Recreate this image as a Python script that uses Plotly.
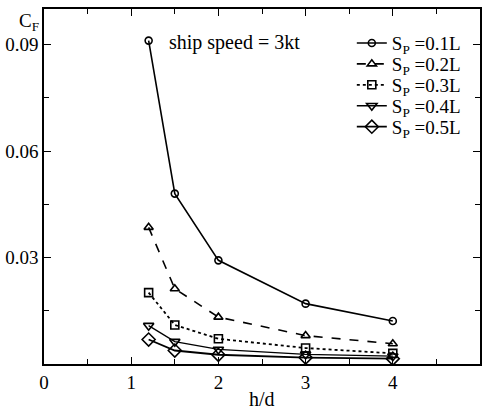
import plotly.graph_objects as go

h_d = [1.2, 1.5, 2, 3, 4]
cf_01 = [0.0911, 0.0480, 0.0292, 0.0170, 0.0121]
cf_02 = [0.0385, 0.0212, 0.0132, 0.0080, 0.0057]
cf_03 = [0.0201, 0.0110, 0.0071, 0.0045, 0.0030]
cf_04 = [0.0108, 0.0063, 0.0041, 0.0027, 0.0022]
cf_05 = [0.0069, 0.0038, 0.0026, 0.0018, 0.0015]
names = ["S<sub>P</sub> =0.1L", "S<sub>P</sub> =0.2L", "S<sub>P</sub> =0.3L",
         "S<sub>P</sub> =0.4L", "S<sub>P</sub> =0.5L"]
x_ticks = [0, 1, 2, 3, 4, 5]
y_ticks = [0.03, 0.06, 0.09]

series = [cf_01, cf_02, cf_03, cf_04, cf_05]
dashes = ["solid", "dash", "dot", "solid", "solid"]
symbols = ["circle-open", "triangle-up-open", "square-open", "triangle-down-open", "diamond-open"]
msizes = [7, 8, 8, 9, 10]
widths = [1.6, 1.6, 1.8, 1.3, 1.8]
legend_ids = ["legend", "legend2", "legend3", "legend4", "legend5"]

fam = "'Liberation Serif', 'Times New Roman', serif"


def F(size):
    return dict(family=fam, size=size, color="black")


fig = go.Figure()
for ys, nm, d, s, ms, w, lg in zip(series, names, dashes, symbols, msizes, widths, legend_ids):
    fig.add_trace(go.Scatter(
        x=h_d, y=ys, name=nm, mode="lines+markers", legend=lg,
        line=dict(color="black", width=w, dash=d),
        marker=dict(symbol=s, size=ms, color="black", line=dict(width=1.6, color="black")),
    ))

axis_common = dict(
    showline=True, linecolor="black", linewidth=1.6, mirror="ticks",
    ticks="inside", ticklen=7, tickwidth=1.2, tickcolor="black",
    showgrid=False, zeroline=False, tickfont=F(19),
)
fig.update_xaxes(range=[0, 5], tickvals=x_ticks,
                 minor=dict(ticks="inside", ticklen=5, tickwidth=1.2, tickcolor="black", dtick=0.5, tick0=0),
                 **axis_common)
fig.update_yaxes(range=[0, 0.1], tickvals=y_ticks, tickformat=".2f",
                 minor=dict(ticks="inside", ticklen=5, tickwidth=1.2, tickcolor="black", dtick=0.015, tick0=0),
                 **axis_common)

# one legend box per entry, stacked at the reference's row pitch
row_y = [0.904, 0.845, 0.786, 0.727, 0.668]
legends = {}
for lg, yy in zip(legend_ids, row_y):
    legends[lg] = dict(x=0.706, y=yy, xanchor="left", yanchor="middle",
                       bgcolor="rgba(0,0,0,0)", font=F(19), borderwidth=0,
                       itemwidth=30, tracegroupgap=0)

fig.update_layout(
    width=484, height=410,
    margin=dict(l=44, r=2, t=9, b=46),
    plot_bgcolor="white", paper_bgcolor="white",
    font=F(19),
    showlegend=True,
    annotations=[
        dict(text="ship speed = 3kt", x=1.41, y=0.0905, xref="x", yref="y",
             xanchor="left", yanchor="middle", showarrow=False, font=F(20)),
        dict(text="C<sub>F</sub>", x=0, y=1.0, xref="paper", yref="paper",
             xanchor="right", yanchor="top", xshift=-3, yshift=1, showarrow=False, font=F(19)),
        dict(text="h/d", x=0.5, y=0, xref="paper", yref="paper",
             xanchor="center", yanchor="top", yshift=-22, showarrow=False, font=F(20)),
    ],
    **legends,
)

fig.write_html("out.html")
